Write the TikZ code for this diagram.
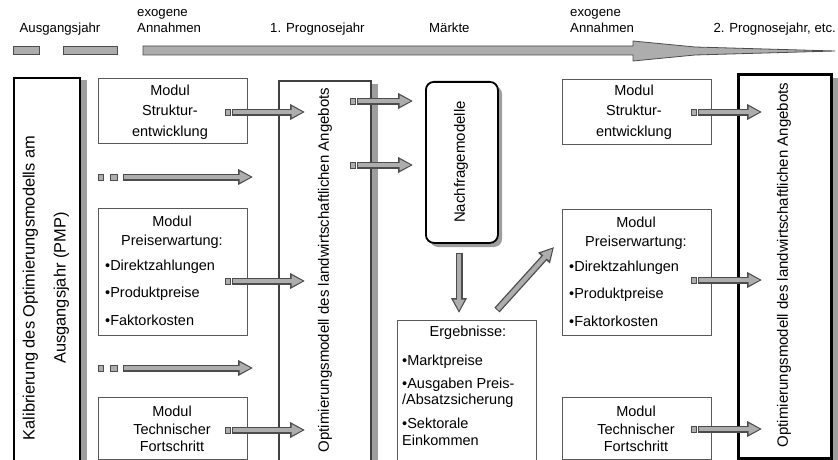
\documentclass[tikz,border=0pt]{standalone}
\usepackage{fontspec}
\setmainfont{Liberation Sans}
\usetikzlibrary{arrows.meta}
\definecolor{shadecol}{gray}{0.62}
\definecolor{arrfill}{gray}{0.68}
\definecolor{arredge}{gray}{0.30}
\tikzset{
  bout/.style={line width=7pt, draw=arredge, -{Triangle[length=15pt,width=15pt]}},
  bin/.style={line width=4.4pt, draw=arrfill, shorten >=2.3pt, shorten <=1pt, -{Triangle[length=11pt,width=10.5pt]}},
  sq/.style={draw=arredge, fill=arrfill, line width=0.8pt, minimum width=5pt, minimum height=6pt, inner sep=0pt},
  modbox/.style={draw=black!65, line width=0.9pt},
  boxtxt/.style={font=\fontsize{14.5}{20.5}\selectfont, align=center, inner sep=0pt},
  bultxt/.style={font=\fontsize{14.5}{16}\selectfont, align=left, inner sep=0pt, anchor=base west},
  toptxt/.style={font=\fontsize{13.2}{16}\selectfont, inner sep=0pt, align=left},
  rottxt/.style={font=\fontsize{15}{18}\selectfont, rotate=90, align=center, inner sep=0pt},
  shadowfill/.style={fill=shadecol, draw=none}
}
\newcommand{\barrow}[2]{\draw[bout] (#1) -- (#2); \draw[bin] (#1) -- (#2);}
\begin{document}
\begin{tikzpicture}[x=1pt,y=-1pt]
\useasboundingbox (0,0) rectangle (838,460);
\clip (0,0) rectangle (838,460);
\fill[white] (0,0) rectangle (838,460);

% ---------- top timeline ----------
\node[toptxt, anchor=base] (tAus) at (60,33) {Ausgangsjahr};
\node[toptxt, anchor=base west] (tEx1) at (137,33) {exogene\\Annahmen};
\node[toptxt, anchor=base west] (tP1) at (270,33) {1. Prognosejahr};
\node[toptxt, anchor=base west] (tM) at (429,33) {Märkte};
\node[toptxt, anchor=base west] (tEx2) at (570,33) {exogene\\Annahmen};
\node[toptxt, anchor=base east] (tP2) at (836,33) {2. Prognosejahr, etc.};

\draw[draw=arredge, fill=arrfill, line width=0.8pt] (13,46) rectangle (39,54);
\draw[draw=arredge, fill=arrfill, line width=0.8pt] (63,46) rectangle (117,54);
\draw[draw=arredge, fill=arrfill, line width=0.8pt]
  (143,46) -- (633,46) -- (633,41) -- (695,47) -- (835,51) -- (695,55) -- (633,61) -- (633,55) -- (143,55) -- cycle;

% ---------- shadows ----------
\fill[shadowfill] (80,80) rectangle (87,465);
\fill[shadowfill] (370,84) rectangle (378,465);
\fill[shadowfill] (831,78) rectangle (838,465);
\fill[shadowfill] (742,457) rectangle (838,465);
\fill[shadowfill, rounded corners=8pt] (430,86) rectangle (502,247);

% ---------- big boxes ----------
\node[draw=black, line width=2.4pt, anchor=north west, minimum width=66pt, minimum height=400pt, inner sep=0pt] (kal) at (13,77) {};
\node[rottxt, font=\fontsize{16.4}{31}\selectfont] (kaltxt) at (46,288) {Kalibrierung des Optimierungsmodells am\\Ausgangsjahr (PMP)};

\node[draw=black!75, line width=1.6pt, anchor=north west, minimum width=92pt, minimum height=400pt, inner sep=0pt] (opt1) at (278,80) {};
\node[rottxt] (opt1txt) at (325,270) {Optimierungsmodell des landwirtschaftlichen Angebots};

\node[draw=black, fill=white, line width=1.8pt, rounded corners=8pt, anchor=north west, minimum width=72pt, minimum height=161pt, inner sep=0pt] (nach) at (425,81) {};
\node[rottxt] (nachtxt) at (461,162) {Nachfragemodelle};

\node[draw=black, fill=white, line width=2.6pt, anchor=north west, minimum width=93pt, minimum height=384pt, inner sep=0pt] (opt2) at (737,73) {};
\node[rottxt] (opt2txt) at (784,265) {Optimierungsmodell des landwirtschaftlichen Angebots};

% ---------- module boxes left ----------
\node[modbox, anchor=north west, minimum width=149pt, minimum height=65pt, inner sep=0pt] (ls) at (98,78) {};
\node[boxtxt] (lstxt) at (170,112) {Modul\\Struktur-\\entwicklung};

\node[modbox, anchor=north west, minimum width=149pt, minimum height=127pt, inner sep=0pt] (lp) at (98,208) {};
\node[boxtxt, font=\fontsize{14.5}{19}\selectfont] (lptxt) at (172,232) {Modul\\Preiserwartung:};
\node[bultxt, font=\fontsize{14.5}{27.5}\selectfont] (lpbul) at (105,325) {•Direktzahlungen\\•Produktpreise\\•Faktorkosten};

\node[modbox, anchor=north west, minimum width=149pt, minimum height=62pt, inner sep=0pt] (lt) at (98,397) {};
\node[boxtxt, font=\fontsize{14.5}{17.5}\selectfont] (lttxt) at (172,429) {Modul\\Technischer\\Fortschritt};

% ---------- module boxes right ----------
\node[modbox, anchor=north west, minimum width=149pt, minimum height=65pt, inner sep=0pt] (rs) at (562,79) {};
\node[boxtxt] (rstxt) at (634,112) {Modul\\Struktur-\\entwicklung};

\node[modbox, anchor=north west, minimum width=149pt, minimum height=126pt, inner sep=0pt] (rp) at (562,209) {};
\node[boxtxt, font=\fontsize{14.5}{19}\selectfont] (rptxt) at (636,233) {Modul\\Preiserwartung:};
\node[bultxt, font=\fontsize{14.5}{27.5}\selectfont] (rpbul) at (569,326) {•Direktzahlungen\\•Produktpreise\\•Faktorkosten};

\node[modbox, anchor=north west, minimum width=149pt, minimum height=62pt, inner sep=0pt] (rt) at (562,397) {};
\node[boxtxt, font=\fontsize{14.5}{17.5}\selectfont] (rttxt) at (636,429) {Modul\\Technischer\\Fortschritt};

% ---------- Ergebnisse ----------
\node[modbox, anchor=north west, minimum width=139pt, minimum height=150pt, inner sep=0pt] (erg) at (397,320) {};
\node[boxtxt] (ergtit) at (468,333) {Ergebnisse:};
\node[bultxt] (erg1) at (402,365) {•Marktpreise};
\node[bultxt] (erg2) at (402,404) {•Ausgaben Preis-\\/Absatzsicherung};
\node[bultxt, font=\fontsize{14.5}{17}\selectfont] (erg3) at (402,445) {•Sektorale\\Einkommen};

% ---------- arrows ----------
% left modules -> optimisation model
\node[sq] (q1) at (228,112) {};
\coordinate (a1s) at (232,112); \coordinate (a1e) at (305,112);
\barrow{a1s}{a1e}
\node[sq] (q2) at (228,281) {};
\coordinate (a2s) at (232,281); \coordinate (a2e) at (305,281);
\barrow{a2s}{a2e}
\node[sq] (q3) at (228,430) {};
\coordinate (a3s) at (232,430); \coordinate (a3e) at (305,430);
\barrow{a3s}{a3e}

% long dashed arrows
\node[sq] (q4a) at (101,177) {};
\node[sq, minimum width=7pt] (q4b) at (114,177) {};
\coordinate (a4s) at (123,177); \coordinate (a4e) at (253,177);
\barrow{a4s}{a4e}
\node[sq] (q5a) at (101,368) {};
\node[sq, minimum width=7pt] (q5b) at (114,368) {};
\coordinate (a5s) at (123,368); \coordinate (a5e) at (253,368);
\barrow{a5s}{a5e}

% optimisation -> Nachfragemodelle
\node[sq] (q6) at (353,101) {};
\coordinate (a6s) at (357,101); \coordinate (a6e) at (413,101);
\barrow{a6s}{a6e}
\node[sq] (q7) at (353,165) {};
\coordinate (a7s) at (357,165); \coordinate (a7e) at (413,165);
\barrow{a7s}{a7e}

% Nachfrage -> Ergebnisse
\coordinate (a8s) at (459,253); \coordinate (a8e) at (459,313);
\barrow{a8s}{a8e}
% Ergebnisse -> right modules (diagonal)
\coordinate (a9s) at (497,310); \coordinate (a9e) at (554,247);
\barrow{a9s}{a9e}

% right modules -> right optimisation model
\node[sq] (q10) at (694,112) {};
\coordinate (a10s) at (698,112); \coordinate (a10e) at (762,112);
\barrow{a10s}{a10e}
\node[sq] (q11) at (694,280) {};
\coordinate (a11s) at (698,280); \coordinate (a11e) at (762,280);
\barrow{a11s}{a11e}
\node[sq] (q12) at (694,429) {};
\coordinate (a12s) at (698,429); \coordinate (a12e) at (762,429);
\barrow{a12s}{a12e}
\end{tikzpicture}
\end{document}
